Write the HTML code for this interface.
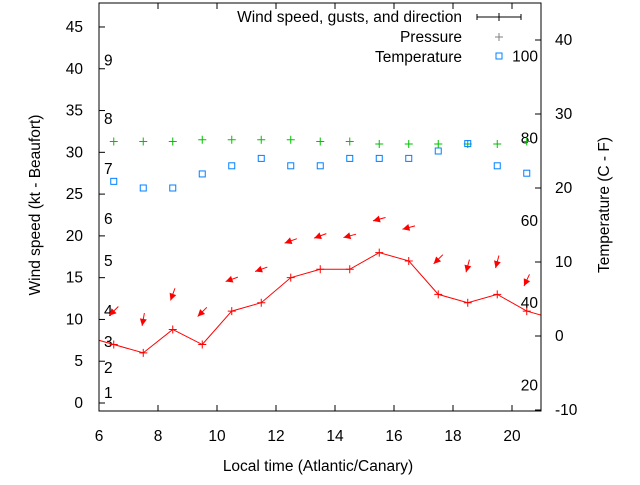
<!DOCTYPE html>
<html><head><meta charset="utf-8"><style>
body{margin:0;background:#fff}
svg{font-family:"Liberation Sans",sans-serif;font-size:15.5px}
</style></head><body>
<svg id="chart" width="640" height="480" viewBox="0 0 640 480" xmlns="http://www.w3.org/2000/svg">
<rect width="640" height="480" fill="#fff"/>
<g id="grid"></g>
<g id="marks"></g>
<rect x="99" y="3" width="442" height="408" fill="none" stroke="#000" stroke-width="1"/>
<text transform="translate(40,205) rotate(-90)" text-anchor="middle">Wind speed (kt - Beaufort)</text>
<text transform="translate(609,205) rotate(-90)" text-anchor="middle">Temperature (C - F)</text>
<text x="318" y="471" text-anchor="middle">Local time (Atlantic/Canary)</text>
<g>
<text x="462" y="22" text-anchor="end">Wind speed, gusts, and direction</text>
<path d="M477 17H521M477 14V20M521 14V20M499 13V21" stroke="#000" fill="none"/>
<text x="462" y="42" text-anchor="end">Pressure</text>
<path d="M495 37H503M499 33V41" stroke="#808080" fill="none"/>
<text x="462" y="62" text-anchor="end">Temperature</text>
<rect x="496" y="53" width="6" height="6" fill="none" stroke="#0080ff"/>
</g>
</svg>
<script>
const hours=[6.5,7.5,8.5,9.5,10.5,11.5,12.5,13.5,14.5,15.5,16.5,17.5,18.5,19.5,20.5];
const windSpeed=[7,6,8.8,7,11,12,15,16,16,18,17,13,12,13,11];
const windEdgeHours=[5.5,21.5];
const windEdgeValues=[8,10];
const arrowLevel=[11,10,13,10.9,14.8,16,19.4,20,20,22,21,17.2,16.4,16.9,14.7];
const windDir=[45,10,20,45,70,70,70,70,75,75,75,45,15,15,25];
const pressure=[31.3,31.3,31.3,31.5,31.5,31.5,31.5,31.3,31.3,31.0,31.0,31.0,31.0,31.0,31.3];
const tempC=[20.9,20,20,21.9,23,24,23,23,24,24,24,25,26,23,22];
const xTicks=[6,8,10,12,14,16,18,20];
const yTicks=[0,5,10,15,20,25,30,35,40,45];
const y2Ticks=[-10,0,10,20,30,40];
const beaufort=[1,2,3,4,5,6,7,8,9];
const beaufortKt=[1.2,4.2,7.3,11,17,22,28,34,41];
const fahrenheit=[20,40,60,80,100];

const NS="http://www.w3.org/2000/svg";
const X=v=>99+(v-6)*29.5;
const YL=v=>403-v*8.356;
const YR=v=>336-v*7.4;
const FtoY=f=>YR((f-32)*5/9);
function mk(tag,attrs,parent,text){const e=document.createElementNS(NS,tag);for(const k in attrs)e.setAttribute(k,attrs[k]);if(text!==undefined)e.textContent=text;parent.appendChild(e);return e;}
const grid=document.getElementById('grid'),marks=document.getElementById('marks');

xTicks.forEach(t=>{
  const g=mk('g',{},grid);
  
  
  mk('path',{d:`M${X(t)} 411v-6M${X(t)} 3v6`,stroke:'#000'},g);
  mk('text',{x:X(t),y:441,'text-anchor':'middle'},g,String(t));
});
yTicks.forEach(t=>{
  const g=mk('g',{},grid);
  
  
  mk('path',{d:`M99 ${YL(t)}h6`,stroke:'#000'},g);
  mk('text',{x:83,y:YL(t)+5,'text-anchor':'end'},g,String(t));
});
y2Ticks.forEach(t=>{
  const g=mk('g',{},grid);
  
  
  mk('path',{d:`M541 ${YR(t)}h-6`,stroke:'#000'},g);
  mk('text',{x:555,y:YR(t)+5,'text-anchor':'start'},g,String(t));
});
beaufort.forEach((b,i)=>{
  const t=mk('text',{x:104,y:YL(beaufortKt[i])+5},grid,String(b));
  
  
});
fahrenheit.forEach(f=>{
  const t=mk('text',{x:538,y:FtoY(f)+5,'text-anchor':'end'},grid,String(f));
  
  
});

const defs=mk('defs',{},marks);
const cp=mk('clipPath',{id:'clip'},defs);
mk('rect',{x:99,y:3,width:442,height:408},cp);
const clipG=mk('g',{'clip-path':'url(#clip)'},marks);

const pts=[[windEdgeHours[0],windEdgeValues[0]]].concat(hours.map((h,i)=>[h,windSpeed[i]])).concat([[windEdgeHours[1],windEdgeValues[1]]]);
const line=mk('polyline',{points:pts.map(p=>X(p[0])+','+YL(p[1])).join(' '),fill:'none',stroke:'#f00','stroke-width':1},clipG);


hours.forEach((h,i)=>{
  const x=X(h),y=YL(windSpeed[i]);
  const p=mk('path',{d:`M${x-4} ${y}h8M${x} ${y-4}v8`,stroke:'#f00'},clipG);
  
  
});
hours.forEach((h,i)=>{
  const cx=X(h),cy=YL(arrowLevel[i]);
  const a=windDir[i]*Math.PI/180,L=13;
  const ux=Math.sin(a),uy=-Math.cos(a);
  const tx=cx+ux*L/2,ty=cy+uy*L/2, hx=cx-ux*L/2,hy=cy-uy*L/2;
  const g=mk('g',{},clipG);
  
  
  mk('line',{x1:tx,y1:ty,x2:hx,y2:hy,stroke:'#f00'},g);
  const px=-uy,py=ux;
  mk('polygon',{points:`${hx},${hy} ${hx+ux*7+px*3.5},${hy+uy*7+py*3.5} ${hx+ux*7-px*3.5},${hy+uy*7-py*3.5}`,fill:'#f00'},g);
});
hours.forEach((h,i)=>{
  const x=X(h),y=YL(pressure[i]);
  const p=mk('path',{d:`M${x-4} ${y}h8M${x} ${y-4}v8`,stroke:'#00c000'},clipG);
  
  
});
hours.forEach((h,i)=>{
  const x=X(h),y=YR(tempC[i]);
  const r=mk('rect',{x:x-3,y:y-3,width:6,height:6,fill:'none',stroke:'#0080ff'},clipG);
  
  
});
</script>
</body></html>
